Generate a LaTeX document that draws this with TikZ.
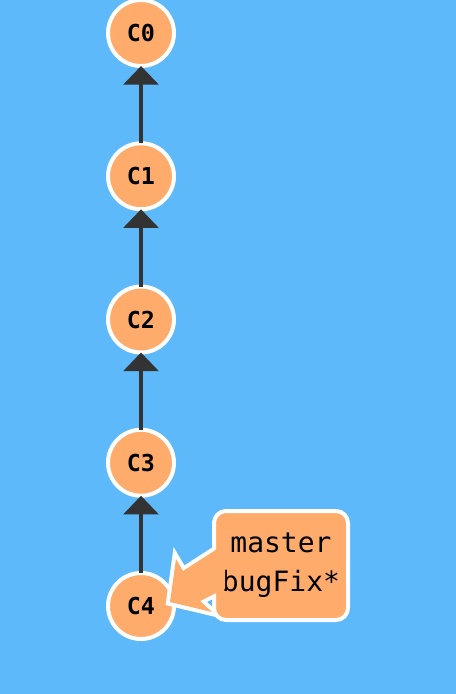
\documentclass[tikz,border=0pt]{standalone}
\usepackage{fontspec}
\setmonofont{DejaVu Sans Mono}
\usetikzlibrary{arrows.meta}
\definecolor{bg}{RGB}{93,185,250}
\definecolor{commitfill}{RGB}{254,171,108}
\definecolor{edgegray}{RGB}{51,51,51}

\begin{document}
\begin{tikzpicture}[x=0.75pt, y=-0.75pt,
        commit node/.style={circle, draw=white, line width=3pt, fill=commitfill, minimum size=49.5pt,
            inner sep=0pt, outer sep=0pt, font=\ttfamily\bfseries\fontsize{17.5}{21}\selectfont},
        parent edge/.style={draw=edgegray, line width=3.2pt, -{Triangle[length=14pt, width=26pt]}},
        branch node/.style={rectangle, rounded corners=9pt, draw=white, line width=3pt, fill=commitfill,
            minimum width=100.5pt, minimum height=81.75pt, align=center,
            font=\ttfamily\fontsize{21}{29}\selectfont}]

    \useasboundingbox (0,0) rectangle (456,694);
    \fill[bg] (0,0) rectangle (456,694);

    % Commits
    \node[commit node] (c0) at (141,33) {C0};
    \node[commit node] (c1) at (141,176.25) {C1};
    \node[commit node] (c2) at (141,319.5) {C2};
    \node[commit node] (c3) at (141,462.75) {C3};
    \node[commit node] (c4) at (141,606) {C4};

    % Edges
    \path (c1) edge[parent edge] (c0);
    \path (c2) edge[parent edge] (c1);
    \path (c3) edge[parent edge] (c2);
    \path (c4) edge[parent edge] (c3);

    % Label
    \coordinate (tip) at (170,602);
    \filldraw[draw=white, fill=commitfill, line width=6pt]
        (225,544) -- (183,571) -- (176,559) -- (tip) -- (212,612) -- (200,601) -- (225,588.5) -- cycle;
    \node[branch node] (branch) at (281,565.5) {master\\bugFix*};
    \fill[commitfill]
        (225,544) -- (183,571) -- (176,559) -- (tip) -- (212,612) -- (200,601) -- (225,588.5) -- cycle;
\end{tikzpicture}
\end{document}
